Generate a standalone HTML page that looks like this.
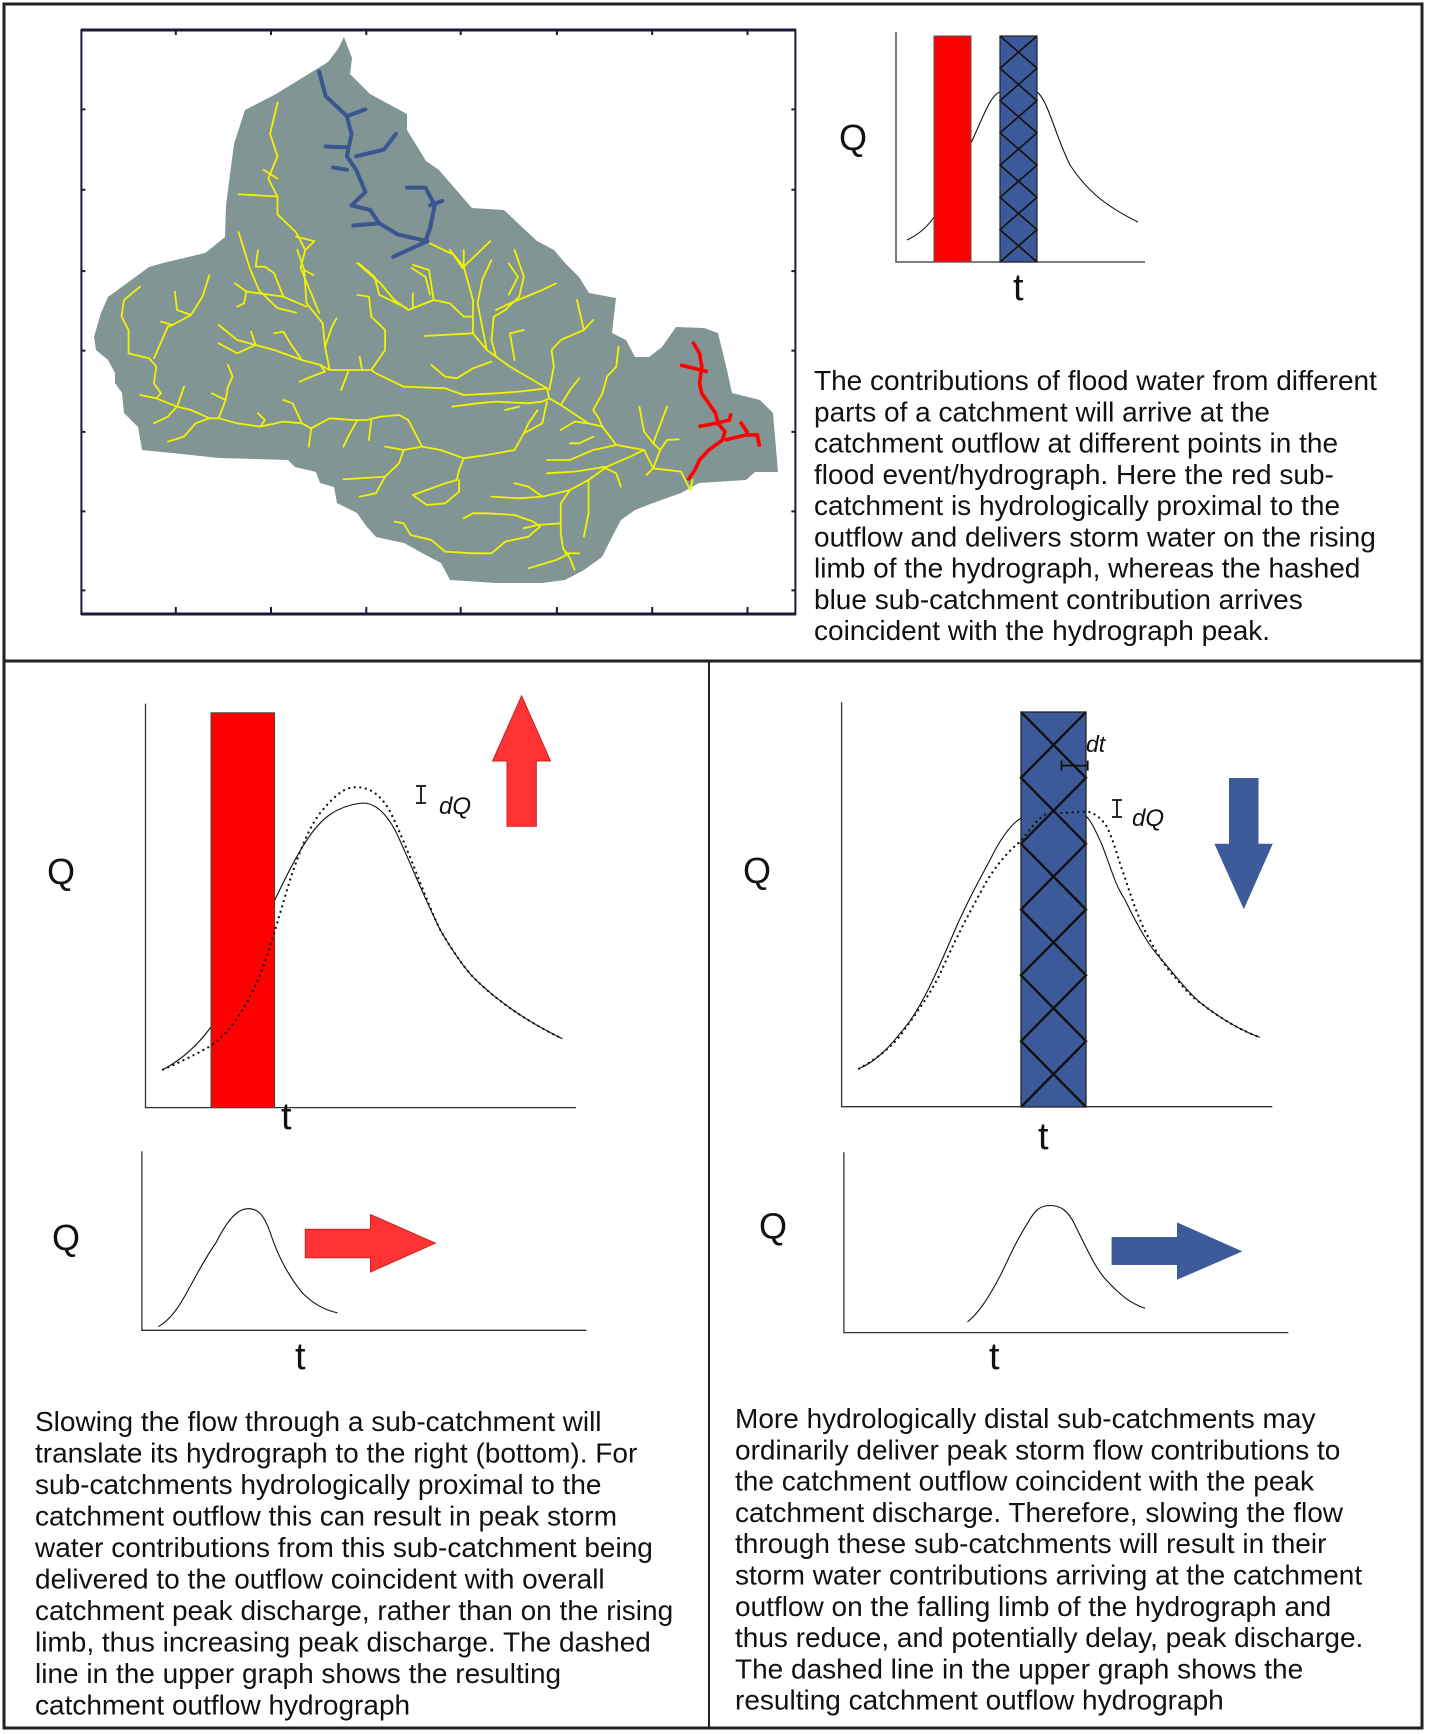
<!DOCTYPE html>
<html><head><meta charset="utf-8"><style>
html,body{margin:0;padding:0;background:#fff}
svg{display:block}
text{font-family:"Liberation Sans",Arial,sans-serif;fill:#111}
.y{fill:none;stroke:#f2f200;stroke-width:1.8;stroke-linejoin:round;stroke-linecap:round}
.b{fill:none;stroke:#3a5590;stroke-width:4;stroke-linejoin:round;stroke-linecap:round}
.r{fill:none;stroke:#ff0000;stroke-width:3.6;stroke-linejoin:round}
.ax{fill:none;stroke:#333;stroke-width:1.3}
.c{fill:none;stroke:#111;stroke-width:1.1}
.d{fill:none;stroke:#111;stroke-width:2.2;stroke-dasharray:0.1 5.5;stroke-linecap:round}
</style></head><body>
<svg width="1450" height="1734" viewBox="0 0 1450 1734" xmlns="http://www.w3.org/2000/svg">
<rect x="4" y="4" width="1418" height="1724" fill="#fff" stroke="#222" stroke-width="3"/>
<line x1="4" y1="661" x2="1422" y2="661" stroke="#222" stroke-width="3"/>
<line x1="709" y1="661" x2="709" y2="1728" stroke="#222" stroke-width="2"/>

<!-- MAP -->
<polygon fill="#819595" points="344,37 352,58 350,74 370,94 407,114 407,130 426,161 439,170 458,192 472,208 504,210 523,228 537,241 554,250 565,263 579,277 589,293 616,298 612,333 626,340 635,357 649,357 662,347 676,327 704,328 718,333 727,370 732,393 760,400 773,413 778,472 755,472 746,480 699,483 681,493 653,503 635,510 621,520 612,537 602,557 584,570 565,580 542,583 496,583 450,580 441,563 422,553 404,543 376,537 367,527 357,513 337,503 334,487 320,483 316,472 295,467 288,460 219,458 172,453 142,450 138,427 124,413 122,393 115,383 115,373 108,360 96,350 94,337 98,323 101,313 108,297 149,267 163,263 205,253 209,250 225,237 226,205 234,144 245,110 276,94 328,62 338,49"/>
<g transform="scale(0.925 0.4466)">
<g class="y">
<polyline vector-effect="non-scaling-stroke" points="300,230 292,300 300,350 290,400 300,440 300,480 320,520 330,560 325,600 335,650 345,700"/>
<polyline vector-effect="non-scaling-stroke" points="258,435 300,440"/>
<polyline vector-effect="non-scaling-stroke" points="285,380 300,400"/>
<polyline vector-effect="non-scaling-stroke" points="258,520 270,600 280,650 300,690 320,700"/>
<polyline vector-effect="non-scaling-stroke" points="320,530 340,540 330,560"/>
<polyline vector-effect="non-scaling-stroke" points="465,545 490,570 500,600 520,560 530,540"/>
<polyline vector-effect="non-scaling-stroke" points="445,600 460,620 465,660"/>
<polyline vector-effect="non-scaling-stroke" points="550,590 560,620 550,660"/>
<polyline vector-effect="non-scaling-stroke" points="388,590 405,620 410,660 440,690"/>
</g>
<g class="b">
<polyline vector-effect="non-scaling-stroke" points="345,160 352,215 375,260 380,300 375,350 385,380 395,430 380,460 400,470 410,500 430,525 462,540 425,575"/>
<polyline vector-effect="non-scaling-stroke" points="375,260 395,245"/>
<polyline vector-effect="non-scaling-stroke" points="375,330 352,328"/>
<polyline vector-effect="non-scaling-stroke" points="385,350 415,335 428,300"/>
<polyline vector-effect="non-scaling-stroke" points="375,380 360,375"/>
<polyline vector-effect="non-scaling-stroke" points="460,540 465,510 470,460 460,420 440,420"/>
<polyline vector-effect="non-scaling-stroke" points="465,460 478,450"/>
<polyline vector-effect="non-scaling-stroke" points="410,500 382,505"/>
</g>
</g>
<g transform="translate(80 250) scale(0.4623 0.3333)">
<g class="y">
<polyline vector-effect="non-scaling-stroke" points="1320,720 1300,665 1240,655 1220,600 1160,585 1130,530 1100,520 1040,465 1015,445 1010,415 950,425 900,430 830,435 790,415 700,410 670,390 640,370 630,360 540,360 520,345 480,330 420,300 380,285 340,270 300,225"/>
<polyline vector-effect="non-scaling-stroke" points="1015,445 1000,455 970,460 900,455 860,460 805,470"/>
<polyline vector-effect="non-scaling-stroke" points="1010,415 930,350 900,320 880,300 850,250 850,150 830,50 830,0"/>
<polyline vector-effect="non-scaling-stroke" points="900,320 890,270 895,200 920,180 950,140 960,80 940,0"/>
<polyline vector-effect="non-scaling-stroke" points="880,300 860,160 870,90 890,30"/>
<polyline vector-effect="non-scaling-stroke" points="900,180 930,160 1000,120 1030,100"/>
<polyline vector-effect="non-scaling-stroke" points="830,50 800,0"/>
<polyline vector-effect="non-scaling-stroke" points="850,250 745,258"/>
<polyline vector-effect="non-scaling-stroke" points="720,45 755,60 765,150 800,160 830,200 850,200"/>
<polyline vector-effect="non-scaling-stroke" points="765,150 710,180 680,150 650,100 600,40"/>
<polyline vector-effect="non-scaling-stroke" points="720,130 720,170"/>
<polyline vector-effect="non-scaling-stroke" points="1015,420 1025,350 1020,300 1040,270 1090,240 1110,210"/>
<polyline vector-effect="non-scaling-stroke" points="1090,240 1075,150"/>
<polyline vector-effect="non-scaling-stroke" points="940,330 930,250 960,240"/>
<polyline vector-effect="non-scaling-stroke" points="630,360 660,300 660,240 630,200 625,140 600,135"/>
<polyline vector-effect="non-scaling-stroke" points="540,360 530,290 525,220 490,160 485,60 470,0"/>
<polyline vector-effect="non-scaling-stroke" points="485,60 505,75"/>
<polyline vector-effect="non-scaling-stroke" points="490,170 440,140 420,70 400,50 380,50 385,0"/>
<polyline vector-effect="non-scaling-stroke" points="440,140 360,125 335,100"/>
<polyline vector-effect="non-scaling-stroke" points="360,125 355,160 340,170"/>
<polyline vector-effect="non-scaling-stroke" points="530,290 545,230 555,205"/>
<polyline vector-effect="non-scaling-stroke" points="480,330 455,280 440,245 420,250"/>
<polyline vector-effect="non-scaling-stroke" points="380,285 370,245"/>
<polyline vector-effect="non-scaling-stroke" points="380,285 340,310 300,280"/>
<polyline vector-effect="non-scaling-stroke" points="520,345 530,365 500,380 475,395"/>
<polyline vector-effect="non-scaling-stroke" points="580,365 565,420"/>
<polyline vector-effect="non-scaling-stroke" points="610,360 605,320"/>
<polyline vector-effect="non-scaling-stroke" points="130,110 95,150 90,200 105,240 105,310 150,325 165,350 160,400 175,430 165,445 130,435"/>
<polyline vector-effect="non-scaling-stroke" points="165,445 210,470 240,480 280,505 300,505 340,520 390,530 440,515 480,520 500,535 540,505 590,510 620,510 650,500 690,495 710,510 740,590 780,600 830,625 880,615 940,600 960,550 1000,520 1010,455"/>
<polyline vector-effect="non-scaling-stroke" points="210,470 225,410"/>
<polyline vector-effect="non-scaling-stroke" points="280,505 250,520 225,560 190,575"/>
<polyline vector-effect="non-scaling-stroke" points="210,470 190,500 160,520"/>
<polyline vector-effect="non-scaling-stroke" points="160,325 190,230 200,225 240,195 265,140 280,75"/>
<polyline vector-effect="non-scaling-stroke" points="200,225 175,215"/>
<polyline vector-effect="non-scaling-stroke" points="240,195 210,180 205,125"/>
<polyline vector-effect="non-scaling-stroke" points="300,505 315,450 320,410 330,380 320,345"/>
<polyline vector-effect="non-scaling-stroke" points="315,450 285,430"/>
<polyline vector-effect="non-scaling-stroke" points="390,530 400,510 385,490"/>
<polyline vector-effect="non-scaling-stroke" points="480,520 460,460 440,450"/>
<polyline vector-effect="non-scaling-stroke" points="500,535 495,590"/>
<polyline vector-effect="non-scaling-stroke" points="600,510 580,560 570,590"/>
<polyline vector-effect="non-scaling-stroke" points="630,510 625,570"/>
<polyline vector-effect="non-scaling-stroke" points="830,625 820,660 815,690 790,700 750,720 720,735 750,765 790,760 820,725 820,690"/>
<polyline vector-effect="non-scaling-stroke" points="740,590 700,600 660,590"/>
<polyline vector-effect="non-scaling-stroke" points="700,600 690,640 660,680 640,730 605,740"/>
<polyline vector-effect="non-scaling-stroke" points="660,680 570,688"/>
<polyline vector-effect="non-scaling-stroke" points="1220,600 1190,620 1140,650 1100,690 1060,720 1040,760 1040,850 1045,895 1060,925 1070,960"/>
<polyline vector-effect="non-scaling-stroke" points="1060,910 1030,930 970,955"/>
<polyline vector-effect="non-scaling-stroke" points="1050,910 1080,910"/>
<polyline vector-effect="non-scaling-stroke" points="1060,720 1000,740 950,745 890,740"/>
<polyline vector-effect="non-scaling-stroke" points="1000,740 970,710 940,700"/>
<polyline vector-effect="non-scaling-stroke" points="1100,690 1100,790 1090,860"/>
<polyline vector-effect="non-scaling-stroke" points="1130,650 1160,670 1170,710"/>
<polyline vector-effect="non-scaling-stroke" points="1140,650 1070,665 1010,670"/>
<polyline vector-effect="non-scaling-stroke" points="1040,820 990,825 960,835"/>
<polyline vector-effect="non-scaling-stroke" points="995,830 970,860 920,875 890,910 850,910 790,905 760,870 715,855 700,820 680,815"/>
<polyline vector-effect="non-scaling-stroke" points="850,790 880,790 940,795 980,815 995,830"/>
<polyline vector-effect="non-scaling-stroke" points="850,790 830,805"/>
<polyline vector-effect="non-scaling-stroke" points="1160,585 1110,600 1060,630 1010,630"/>
<polyline vector-effect="non-scaling-stroke" points="1130,530 1120,500 1110,480 1130,430 1140,380 1160,350 1165,290"/>
<polyline vector-effect="non-scaling-stroke" points="1100,520 1070,515 1040,540"/>
<polyline vector-effect="non-scaling-stroke" points="1110,560 1080,580 1060,580"/>
<polyline vector-effect="non-scaling-stroke" points="1040,465 1060,420 1080,385"/>
<polyline vector-effect="non-scaling-stroke" points="960,550 970,520 990,480"/>
<polyline vector-effect="non-scaling-stroke" points="920,480 950,470"/>
<polyline vector-effect="non-scaling-stroke" points="1240,655 1255,600 1240,580 1220,545 1210,470"/>
<polyline vector-effect="non-scaling-stroke" points="1240,580 1270,470"/>
<polyline vector-effect="non-scaling-stroke" points="1255,600 1270,570 1295,568"/>
<polyline vector-effect="non-scaling-stroke" points="1240,655 1225,675"/>
<polyline vector-effect="non-scaling-stroke" points="1320,720 1325,690"/>
<polyline vector-effect="non-scaling-stroke" points="760,345 790,380 815,385 850,355 890,335"/>
</g>
<g class="r">
<polyline vector-effect="non-scaling-stroke" points="1325,275 1340,310 1345,350 1340,400 1345,430 1360,460 1375,490 1380,520 1395,545 1390,570 1360,600 1340,630 1330,660 1315,690"/>
<polyline vector-effect="non-scaling-stroke" points="1298,345 1358,365"/>
<polyline vector-effect="non-scaling-stroke" points="1338,530 1375,520 1405,510 1408,490"/>
<polyline vector-effect="non-scaling-stroke" points="1395,570 1440,555 1465,555 1470,590"/>
<polyline vector-effect="non-scaling-stroke" points="1428,515 1445,550"/>
</g>
</g>
<g stroke="#1a1a3c" fill="none">
<rect x="81.4" y="30" width="714" height="584" stroke-width="2"/>
<line x1="81" y1="30" x2="796" y2="30" stroke-width="3"/>
<line x1="81" y1="614" x2="796" y2="614" stroke-width="3"/>
<path stroke-width="2" d="M175.8,30v5M271,30v5M366.3,30v5M460.7,30v5M556.9,30v5M652.2,30v5M747.5,30v5
M175.8,614v-7M271,614v-7M366.3,614v-7M460.7,614v-7M556.9,614v-7M652.2,614v-7M747.5,614v-7
M81.4,109.4h4M81.4,189.8h4M81.4,271.1h4M81.4,350.6h4M81.4,431.9h4M81.4,511.4h4M81.4,590.4h4
M795.4,109.4h-4M795.4,189.8h-4M795.4,271.1h-4M795.4,350.6h-4M795.4,431.9h-4M795.4,511.4h-4M795.4,590.4h-4"/>
</g>

<!-- TOP RIGHT CHART -->
<path class="c" d="M907,240 C920,234 928,226 934,217 C950,190 960,165 971,143 C982,120 990,95 1000,92 L1037,92 C1048,100 1055,135 1070,165 C1085,188 1103,205 1138,222"/>
<polyline class="ax" points="896,32 896,262 1145,262"/>
<rect x="934" y="36" width="37" height="226" fill="#ff0000" stroke="#555" stroke-width="1"/>
<rect x="1000" y="36" width="37" height="226" fill="#3c5a99"/>
<polyline fill="none" stroke="#111" stroke-width="1.6" points="1000,36 1037,68.3 1000,100.6 1037,132.9 1000,165.1 1037,197.4 1000,229.7 1037,262"/>
<polyline fill="none" stroke="#111" stroke-width="1.6" points="1037,36 1000,68.3 1037,100.6 1000,132.9 1037,165.1 1000,197.4 1037,229.7 1000,262"/>
<rect x="1000" y="36" width="37" height="226" fill="none" stroke="#222" stroke-width="1.2"/>
<text x="839" y="150" font-size="36">Q</text>
<text x="1013" y="300" font-size="38">t</text>
<g font-size="28">
<text x="814" y="390">The contributions of flood water from different</text>
<text x="814" y="421.3">parts of a catchment will arrive at the</text>
<text x="814" y="452.5">catchment outflow at different points in the</text>
<text x="814" y="483.8">flood event/hydrograph. Here the red sub-</text>
<text x="814" y="515">catchment is hydrologically proximal to the</text>
<text x="814" y="546.3">outflow and delivers storm water on the rising</text>
<text x="814" y="577.5">limb of the hydrograph, whereas the hashed</text>
<text x="814" y="608.8">blue sub-catchment contribution arrives</text>
<text x="814" y="640">coincident with the hydrograph peak.</text>
</g>

<!-- BOTTOM LEFT -->
<path class="c" d="M163,1069.6 C185,1058 200,1042 211,1027 L275.5,898.7 C290,868 300,850 307.6,839 C320,820 335,806 362.7,803 C375,803 385,812 395,830 C405,850 425,900 440.8,931 C455,955 468,973 477.5,981.4 C495,998 520,1018 562.4,1038.8"/>
<polyline class="ax" points="145.5,703.6 145.5,1107.6 576,1107.6"/>
<rect x="211" y="712.8" width="63.6" height="394.8" fill="#ff0000" stroke="#444" stroke-width="1"/>
<path class="d" d="M163,1069.6 C185,1060 200,1052 211,1045.7 C230,1032 245,1010 260,975 C268,955 278,920 290,880 C300,850 310,825 321.4,811.5 C335,795 345,787 355.8,787.2 C370,787 380,795 388,808 C395,820 402,838 410,857 C425,895 435,920 440.8,931 C455,955 468,973 477.5,981.4 C495,998 520,1018 562.4,1038.8"/>
<polygon points="521.6,695.8 550.5,761 536.3,761 536.3,826.2 507,826.2 507,761 492.6,761" fill="#ff3333" stroke="#cc2020" stroke-width="1"/>
<path d="M421,786v17M416,786h10M416,803h10" stroke="#111" stroke-width="1.8" fill="none"/>
<text x="439" y="814" font-size="24" font-style="italic">dQ</text>
<text x="47" y="884" font-size="36">Q</text>
<text x="281" y="1129" font-size="38">t</text>
<polyline class="ax" points="141.9,1151.3 141.9,1330.3 586.3,1330.3"/>
<path class="c" d="M158.4,1326.7 C170,1320 178,1308 183.7,1298 C195,1278 205,1258 215.8,1243 C225,1225 235,1209 248,1208.7 C258,1208.5 264,1215 270,1232 C276,1250 285,1272 303,1293.6 C315,1305 325,1310 337.5,1312.9"/>
<text x="52" y="1250" font-size="36">Q</text>
<text x="295" y="1369" font-size="38">t</text>
<polygon points="305.3,1229.3 370.5,1229.3 370.5,1214.6 435.3,1243.1 370.5,1272 370.5,1257.8 305.3,1257.8" fill="#ff3333" stroke="#cc2020" stroke-width="1"/>

<!-- BOTTOM RIGHT -->
<path class="c" d="M859,1068.6 C880,1060 895,1040 908.7,1022.7 C925,1000 940,965 954.6,930.9 C970,895 985,870 991.3,857.4 C1000,840 1010,825 1021,818 L1086,816 C1092,822 1096,832 1101.5,843.7 C1110,865 1115,885 1124.4,898.7 C1135,920 1145,940 1156.6,953.9 C1175,975 1190,995 1202.5,1004.4 C1220,1018 1240,1030 1259.9,1037.4"/>
<polyline class="ax" points="841.6,702.2 841.6,1106.7 1272.3,1106.7"/>
<rect x="1021" y="712" width="65" height="395" fill="#3c5a99"/>
<path class="d" d="M859,1068.6 C875,1060 890,1048 899.5,1036.5 C915,1015 930,995 940.8,972.2 C955,940 968,915 982.1,889.6 C995,865 1010,850 1020.2,841.4 C1030,830 1038,818 1046.4,813.8 L1087.7,811.5 C1097,814 1102,820 1106,825.3 C1114,840 1118,860 1124.4,875.8 C1132,900 1140,922 1147.4,935.5 C1158,955 1166,968 1175,977 C1185,990 1193,998 1202.5,1004.4 C1220,1018 1240,1030 1259.9,1037.4"/>
<polyline fill="none" stroke="#111" stroke-width="2.4" points="1021,712 1086,777.8 1021,843.7 1086,909.5 1021,975.3 1086,1041.2 1021,1107"/>
<polyline fill="none" stroke="#111" stroke-width="2.4" points="1086,712 1021,777.8 1086,843.7 1021,909.5 1086,975.3 1021,1041.2 1086,1107"/>
<rect x="1021" y="712" width="65" height="395" fill="none" stroke="#222" stroke-width="1.3"/>
<path d="M1061.5,765.6H1087.7M1061.5,760.6v10M1087.7,760.6v10" stroke="#111" stroke-width="1.8" fill="none"/>
<text x="1086" y="752" font-size="23" font-style="italic">dt</text>
<path d="M1117,800v17M1112,800h10M1112,817h10" stroke="#111" stroke-width="1.8" fill="none"/>
<text x="1132" y="826" font-size="24" font-style="italic">dQ</text>
<polygon points="1229,778 1258.5,778 1258.5,843.7 1272.8,843.7 1243.8,909.3 1214.4,843.7 1229,843.7" fill="#3d5a99"/>
<text x="743" y="883" font-size="36">Q</text>
<text x="1038" y="1149" font-size="38">t</text>
<polyline class="ax" points="843.9,1152.2 843.9,1332.6 1288.4,1332.6"/>
<path class="c" d="M967.4,1322 C980,1312 990,1295 1000.5,1275.3 C1010,1255 1018,1238 1028,1222.4 C1035,1210 1040,1205.5 1050,1205.5 C1060,1205.5 1068,1210 1075,1225 C1085,1245 1095,1268 1106,1279.8 C1120,1295 1130,1303 1145,1308.3"/>
<text x="759" y="1238.5" font-size="36">Q</text>
<text x="989" y="1369" font-size="38">t</text>
<polygon points="1111.6,1237 1177,1237 1177,1222.4 1242.4,1251.4 1177,1279.8 1177,1265 1111.6,1265" fill="#3d5a99"/>

<!-- BOTTOM TEXT -->
<g font-size="28">
<text x="35" y="1431">Slowing the flow through a sub-catchment will</text>
<text x="35" y="1462.5">translate its hydrograph to the right (bottom). For</text>
<text x="35" y="1494">sub-catchments hydrologically proximal to the</text>
<text x="35" y="1525.5">catchment outflow this can result in peak storm</text>
<text x="35" y="1557">water contributions from this sub-catchment being</text>
<text x="35" y="1588.5">delivered to the outflow coincident with overall</text>
<text x="35" y="1620">catchment peak discharge, rather than on the rising</text>
<text x="35" y="1651.5">limb, thus increasing peak discharge. The dashed</text>
<text x="35" y="1683">line in the upper graph shows the resulting</text>
<text x="35" y="1714.5">catchment outflow hydrograph</text>
<text x="735" y="1428">More hydrologically distal sub-catchments may</text>
<text x="735" y="1459.3">ordinarily deliver peak storm flow contributions to</text>
<text x="735" y="1490.6">the catchment outflow coincident with the peak</text>
<text x="735" y="1521.9">catchment discharge. Therefore, slowing the flow</text>
<text x="735" y="1553.2">through these sub-catchments will result in their</text>
<text x="735" y="1584.5">storm water contributions arriving at the catchment</text>
<text x="735" y="1615.8">outflow on the falling limb of the hydrograph and</text>
<text x="735" y="1647.1">thus reduce, and potentially delay, peak discharge.</text>
<text x="735" y="1678.4">The dashed line in the upper graph shows the</text>
<text x="735" y="1709.7">resulting catchment outflow hydrograph</text>
</g>
</svg>
</body></html>
